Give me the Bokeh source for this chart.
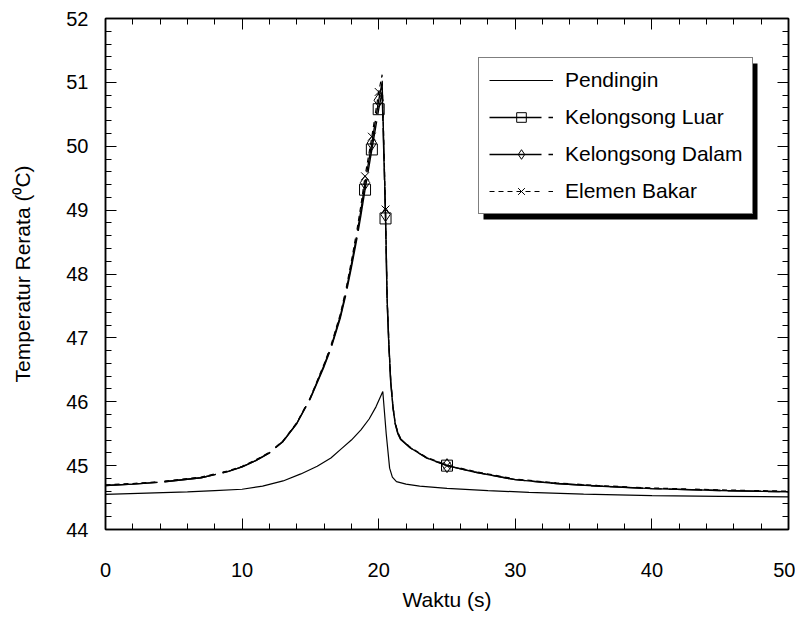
from bokeh.plotting import figure
from bokeh.models import (Legend, LegendItem, LinearAxis, SingleIntervalTicker,
                          BoxAnnotation, Range1d)
from bokeh.embed import file_html
from bokeh.resources import INLINE

# ---------------- data ----------------
t_pendingin = [0, 3, 6, 8, 10, 11.5, 13, 14.3, 15.5, 16.5, 17.3, 18, 18.7, 19.3,
               19.8, 20.3, 20.55, 20.8, 21.0, 21.3, 22, 23, 25, 28, 31, 35, 40,
               45, 50]
pendingin = [44.55, 44.57, 44.59, 44.61, 44.63, 44.68, 44.76, 44.87, 44.99, 45.12,
             45.27, 45.40, 45.56, 45.73, 45.92, 46.16, 45.50, 44.96, 44.82, 44.75,
             44.71, 44.68, 44.645, 44.61, 44.58, 44.555, 44.53, 44.52, 44.51]

t_kelongsong = [0, 2, 4, 7, 9, 10, 11, 12, 13, 14, 15, 16, 16.5, 17.2, 17.6, 18,
                18.4, 18.7, 19, 19.5, 20, 20.25, 20.5, 20.62, 20.75, 20.88, 21.05,
                21.2, 21.4, 21.6, 22.3, 23.5, 25, 27, 30, 33, 36, 40, 45, 50]
kelongsong_luar = [44.69, 44.71, 44.74, 44.81, 44.91, 44.98, 45.08, 45.20, 45.38,
                   45.66, 46.05, 46.55, 46.83, 47.32, 47.68, 48.10, 48.55, 48.92,
                   49.32, 49.95, 50.58, 50.85, 48.87, 47.55, 46.85, 46.30, 45.90,
                   45.66, 45.50, 45.41, 45.28, 45.12, 45.00, 44.90, 44.78, 44.72,
                   44.68, 44.64, 44.61, 44.59]
kelongsong_dalam = [44.69, 44.71, 44.74, 44.81, 44.91, 44.98, 45.08, 45.20, 45.38,
                    45.66, 46.06, 46.57, 46.85, 47.35, 47.72, 48.15, 48.61, 49.00,
                    49.43, 50.05, 50.72, 51.00, 48.93, 47.58, 46.88, 46.32, 45.91,
                    45.67, 45.51, 45.42, 45.28, 45.12, 45.00, 44.90, 44.78, 44.72,
                    44.68, 44.64, 44.61, 44.59]
elemen_bakar = [44.70, 44.72, 44.75, 44.82, 44.92, 44.99, 45.09, 45.21, 45.39,
                45.67, 46.07, 46.59, 46.88, 47.38, 47.76, 48.20, 48.68, 49.08,
                49.53, 50.15, 50.85, 51.12, 49.01, 47.62, 46.91, 46.34, 45.92,
                45.68, 45.52, 45.43, 45.29, 45.13, 45.01, 44.91, 44.79, 44.73,
                44.69, 44.65, 44.62, 44.60]

t_marker = [19.0, 19.5, 20.0, 20.5, 25.0]
luar_marker = [49.32, 49.95, 50.58, 48.87, 45.00]
dalam_marker = [49.43, 50.05, 50.72, 48.93, 45.00]
elemen_marker = [49.53, 50.15, 50.85, 49.01, 45.00]

x_label = "Waktu (s)"
y_label = "Temperatur Rerata (\u2070C)"
names = ["Pendingin", "Kelongsong Luar", "Kelongsong Dalam", "Elemen Bakar"]

FONT = "Liberation Sans"

# ---------------- figure ----------------
p = figure(width=795, height=613, output_backend="svg", toolbar_location=None,
           x_range=Range1d(0, 50), y_range=Range1d(44, 52),
           min_border_left=105, min_border_right=7, min_border_top=18,
           min_border_bottom=81)
p.xgrid.visible = False
p.ygrid.visible = False
p.outline_line_color = "black"
p.outline_line_width = 1.5
p.background_fill_color = "white"
p.border_fill_color = "white"


def style_axis(ax, labels=True):
    ax.axis_line_color = "black"
    ax.axis_line_width = 1.5
    ax.major_tick_in = 11
    ax.major_tick_out = 0
    ax.minor_tick_in = 6
    ax.minor_tick_out = 0
    ax.major_tick_line_color = "black"
    ax.minor_tick_line_color = "black"
    ax.major_label_text_font = FONT
    if labels:
        ax.major_label_text_font_size = "20px"
        ax.major_label_text_color = "black"
    else:
        ax.major_label_text_font_size = "1px"
        ax.major_label_text_color = None
        ax.major_label_standoff = 0


p.xaxis.ticker = SingleIntervalTicker(interval=10, num_minor_ticks=5)
p.yaxis.ticker = SingleIntervalTicker(interval=1, num_minor_ticks=5)
style_axis(p.xaxis[0])
style_axis(p.yaxis[0])
p.xaxis.major_label_standoff = 33
p.yaxis.major_label_standoff = 17
p.xaxis.axis_label = x_label
p.yaxis.axis_label = y_label
for ax in (p.xaxis[0], p.yaxis[0]):
    ax.axis_label_text_font = FONT
    ax.axis_label_text_font_size = "21px"
    ax.axis_label_text_font_style = "normal"
    ax.axis_label_text_color = "black"
p.xaxis.axis_label_standoff = 8
p.yaxis.axis_label_standoff = 29

top_ax = LinearAxis(ticker=SingleIntervalTicker(interval=10, num_minor_ticks=5))
right_ax = LinearAxis(ticker=SingleIntervalTicker(interval=1, num_minor_ticks=5))
style_axis(top_ax, labels=False)
style_axis(right_ax, labels=False)
p.add_layout(top_ax, "above")
p.add_layout(right_ax, "right")

# ---------------- series ----------------
r_pend = p.line(t_pendingin, pendingin, line_color="black", line_width=1.2)

r_luar = p.line(t_kelongsong, kelongsong_luar, line_color="black", line_width=1.4,
                line_dash="52 7")
m_luar = p.scatter(t_marker, luar_marker, marker="square", size=11,
                   fill_color=None, line_color="black", line_width=1)

r_dalam = p.line(t_kelongsong, kelongsong_dalam, line_color="black", line_width=1.4,
                 line_dash="52 7")
m_dalam = p.scatter(t_marker, dalam_marker, marker="diamond", size=14,
                    fill_color=None, line_color="black", line_width=1)

r_elem = p.line(t_kelongsong, elemen_bakar, line_color="black", line_width=1.2,
                line_dash="5 4 5 4 5 4 5 4 5 4 5 9")
m_elem = p.scatter(t_marker, elemen_marker, marker="x", size=11,
                   line_color="black", line_width=1)

# ---------------- legend ----------------
LEG_X, LEG_Y = 373, 315   # legend bottom-left, px from frame bottom-left
LEG_W, LEG_H = 274, 156
SH = 5
shadow = BoxAnnotation(left=LEG_X + SH, right=LEG_X + LEG_W + SH,
                       bottom=LEG_Y - SH, top=LEG_Y + LEG_H - SH,
                       left_units="screen", right_units="screen",
                       top_units="screen", bottom_units="screen",
                       fill_color="black", fill_alpha=1.0, line_color=None)
p.add_layout(shadow)

legend = Legend(items=[
    LegendItem(label=names[0], renderers=[r_pend]),
    LegendItem(label=names[1], renderers=[r_luar, m_luar]),
    LegendItem(label=names[2], renderers=[r_dalam, m_dalam]),
    LegendItem(label=names[3], renderers=[r_elem, m_elem]),
], location=(LEG_X, LEG_Y))
legend.label_text_font = FONT
legend.label_text_font_size = "21px"
legend.label_text_color = "black"
legend.glyph_width = 64
legend.glyph_height = 24
legend.label_height = 24
legend.label_standoff = 12
legend.spacing = 13
legend.padding = 10
legend.margin = 0
legend.border_line_color = "black"
legend.border_line_width = 1.5
legend.background_fill_color = "white"
legend.background_fill_alpha = 1.0
p.add_layout(legend)

open("out.html", "w").write(file_html(p, INLINE))
